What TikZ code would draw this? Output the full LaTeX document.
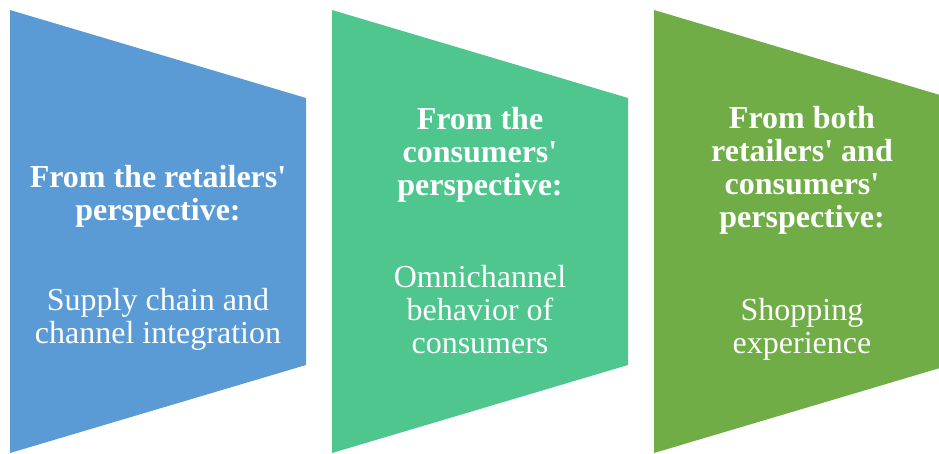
\documentclass[tikz,border=0pt]{standalone}
\usepackage{fontspec}
\setmainfont{Liberation Serif}
\usetikzlibrary{calc}

\definecolor{retailBlue}{HTML}{5B9BD5}
\definecolor{consumerGreen}{HTML}{4EC68E}
\definecolor{bothGreen}{HTML}{70AD47}

\tikzset{
    heading/.style = {text = white, align = center, anchor = base, inner sep = 0pt,
        font = \bfseries\fontsize{32}{33}\selectfont},
    body/.style = {text = white, align = center, anchor = base, inner sep = 0pt,
        font = \fontsize{32}{33}\selectfont},
}

\begin{document}
\begin{tikzpicture}[x = 1pt, y = -1pt]
\def\panelWidth{296}
\def\panelGap{26}
\def\slant{88}
\def\rightSide{267}
\def\leftSide{443}

    \useasboundingbox (0,0) rectangle (939,453);
    \clip (0,0) rectangle (939,453);

    \coordinate (R) at (10,10); %Retailers
    \coordinate (C) at ($(R) + (\panelWidth + \panelGap, 0)$); %Consumers
    \coordinate (B) at ($(C) + (\panelWidth + \panelGap, 0)$); %Both

    \fill[retailBlue] (R) -- ++(\panelWidth, \slant) -- ++(0, \rightSide) -- ($(R) + (0, \leftSide)$) -- cycle;
    \fill[consumerGreen] (C) -- ++(\panelWidth, \slant) -- ++(0, \rightSide) -- ($(C) + (0, \leftSide)$) -- cycle;
    \fill[bothGreen] (B) -- ++(\panelWidth, \slant) -- ++(0, \rightSide) -- ($(B) + (0, \leftSide)$) -- cycle;

    %Labels (base = last line)
    \node[heading] (retailHead) at ($(R) + (0.5 * \panelWidth, 210)$) {From the retailers\textquotesingle\\ perspective:};
    \node[body] (retailBody) at ($(R) + (0.5 * \panelWidth, 333)$) {Supply chain and\\ channel integration};

    \node[heading] (consumerHead) at ($(C) + (0.5 * \panelWidth, 185)$) {From the\\ consumers\textquotesingle\\ perspective:};
    \node[body] (consumerBody) at ($(C) + (0.5 * \panelWidth, 343)$) {Omnichannel\\ behavior of\\ consumers};

    \node[heading] (bothHead) at ($(B) + (0.5 * \panelWidth, 217)$) {From both\\ retailers\textquotesingle{} and\\ consumers\textquotesingle\\ perspective:};
    \node[body] (bothBody) at ($(B) + (0.5 * \panelWidth, 343)$) {Shopping\\ experience};
\end{tikzpicture}
\end{document}
